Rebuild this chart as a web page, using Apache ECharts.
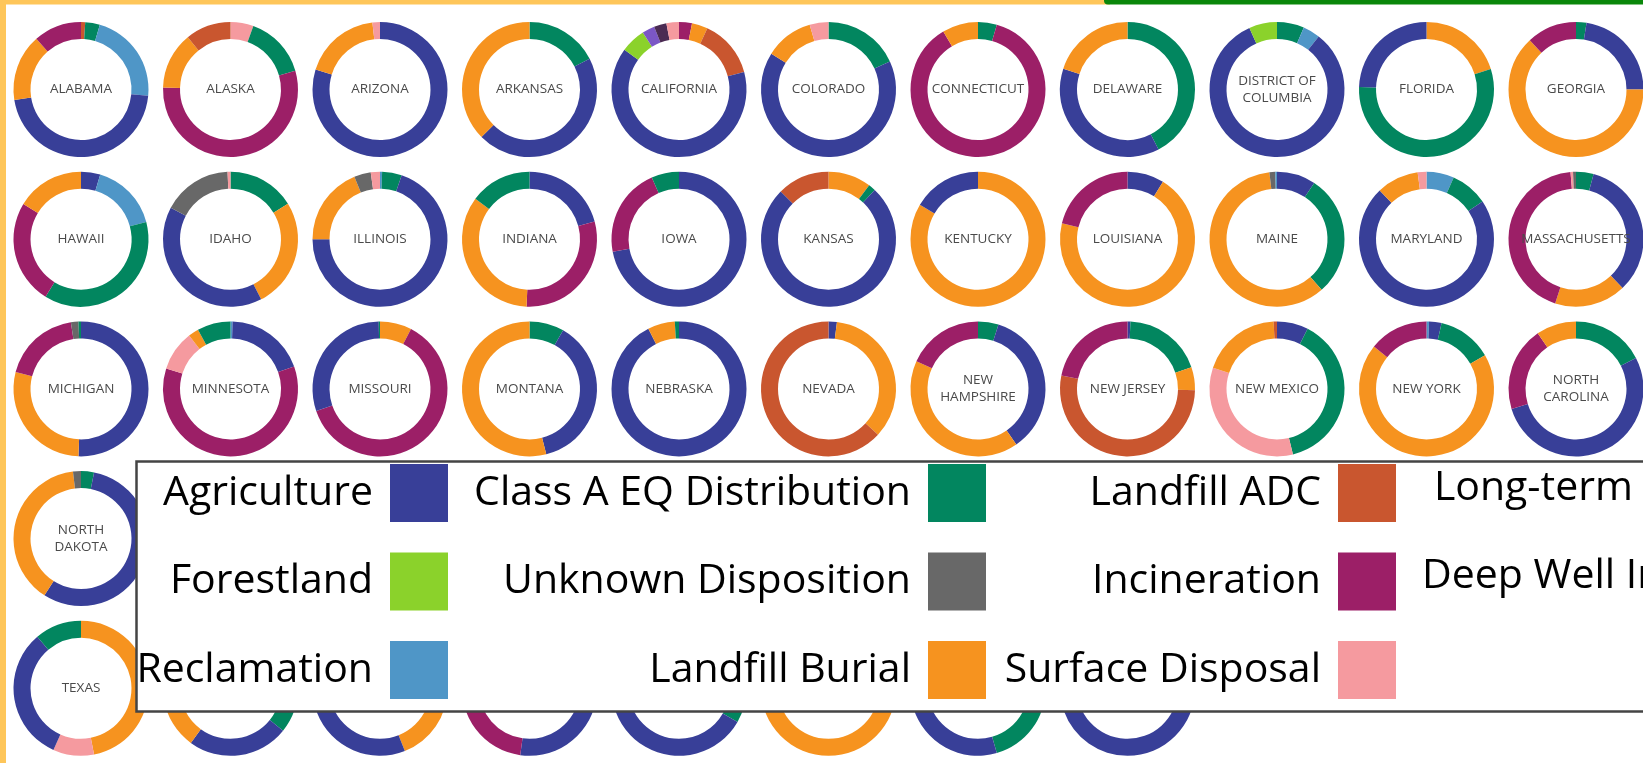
<!DOCTYPE html>
<html>
<head>
<meta charset="utf-8">
<script src="https://cdn.jsdelivr.net/npm/echarts@6/dist/echarts.min.js"></script>
<style>
  html, body { margin: 0; padding: 0; background: #fff; }
  #main { width: 1643px; height: 763px; }
</style>
</head>
<body>
<div id="main"></div>
<script>
const AG = 'Agriculture', EQ = 'Class A EQ Distribution', ADC = 'Landfill ADC', LT = 'Long-term Storage',
  FOR = 'Forestland', UNK = 'Unknown Disposition', INC = 'Incineration', DW = 'Deep Well Injection',
  REC = 'Reclamation', LB = 'Landfill Burial', SD = 'Surface Disposal';

const categories = [AG, EQ, ADC, LT, FOR, UNK, INC, DW, REC, LB, SD];
const colors = ['#383f98', '#02865f', '#c9562f', '#7b57c5', '#8bd22b', '#686868',
  '#9c1f67', '#4b2b53', '#4f96c7', '#f6931f', '#f59a9f'];

// legend columns, as laid out in the box
const legendCols = [[AG, FOR, REC], [EQ, UNK, LB], [ADC, INC, SD], [LT, DW]];

// share of each use per state (%), clockwise from 12 o'clock
const alabama = [[ADC, 1], [EQ, 3.5], [REC, 22], [AG, 46], [LB, 16], [INC, 11.5]];
const alaska = [[SD, 5.5], [EQ, 15], [INC, 55], [LB, 13.6], [ADC, 10.9]];
const arizona = [[AG, 79.8], [LB, 18.4], [SD, 1.8]];
const arkansas = [[EQ, 17.5], [AG, 45.1], [LB, 37.4]];
const california = [[INC, 3.1], [LB, 3.8], [ADC, 13.9], [AG, 64.2], [FOR, 6], [LT, 3], [DW, 3], [SD, 3]];
const colorado = [[EQ, 18.2], [AG, 65.7], [LB, 11.6], [SD, 4.5]];
const connecticut = [[EQ, 4.5], [INC, 86.9], [LB, 8.6]];
const delaware = [[EQ, 42.4], [AG, 37.6], [LB, 20]];
const dc = [[EQ, 6.5], [REC, 4.1], [AG, 82.7], [FOR, 6.7]];
const florida = [[LB, 20.1], [EQ, 55.5], [AG, 24.4]];
const georgia = [[EQ, 2.5], [AG, 22.5], [LB, 63], [INC, 12]];

const hawaii = [[AG, 4.6], [REC, 16.3], [EQ, 37.9], [INC, 24.9], [LB, 16.3]];
const idaho = [[EQ, 16.2], [LB, 26.3], [AG, 40.2], [UNK, 16.6], [SD, 0.7]];
const illinois = [[REC, 0.5], [EQ, 4.7], [AG, 69.8], [LB, 18.8], [UNK, 4], [SD, 2.2]];
const indiana = [[AG, 20.8], [INC, 29.9], [LB, 34.5], [EQ, 14.8]];
const iowa = [[AG, 72], [INC, 21.4], [EQ, 6.6]];
const kansas = [[LB, 10.3], [EQ, 1.7], [AG, 75.5], [ADC, 12.5]];
const kentucky = [[LB, 83.5], [AG, 16.5]];
const louisiana = [[AG, 8.8], [LB, 70], [INC, 21.2]];
const maine = [[AG, 9.3], [EQ, 29.2], [LB, 59.7], [UNK, 1.4], [REC, 0.4]];
const maryland = [[REC, 6.6], [EQ, 9], [AG, 72.2], [LB, 10.1], [SD, 2.1]];
const massachusetts = [[EQ, 4.2], [AG, 33.7], [LB, 17.1], [INC, 43.7], [SD, 0.6], [UNK, 0.7]];

const michigan = [[AG, 50.6], [LB, 28.4], [INC, 18.6], [UNK, 1.8], [EQ, 0.6]];
const minnesota = [[REC, 0.5], [AG, 19.1], [INC, 60.3], [SD, 9.6], [LB, 2.5], [EQ, 8]];
const missouri = [[LB, 7.6], [INC, 62.1], [AG, 30], [EQ, 0.3]];
const montana = [[EQ, 8.3], [AG, 37.7], [LB, 54]];
const nebraska = [[AG, 92.5], [LB, 6.5], [EQ, 1]];
const nevada = [[AG, 2], [LB, 34.9], [ADC, 63.1]];
const newHampshire = [[EQ, 4.9], [AG, 35.5], [LB, 41.3], [INC, 18.3]];
const newJersey = [[AG, 0.7], [EQ, 19.1], [LB, 5.5], [ADC, 52.9], [INC, 21.8]];
const newMexico = [[AG, 7.5], [EQ, 38.7], [SD, 33.9], [LB, 19.1], [ADC, 0.8]];
const newYork = [[REC, 0.6], [AG, 3], [EQ, 13.1], [LB, 69.1], [INC, 14.2]];
const northCarolina = [[EQ, 17.4], [AG, 52.8], [INC, 20.2], [LB, 9.6]];

const northDakota = [[EQ, 3.1], [AG, 56], [LB, 39], [UNK, 1.9]];
const texas = [[LB, 46.9], [SD, 9.8], [AG, 32.1], [EQ, 11.2]];
const utah = [[EQ, 35.8], [AG, 24.2], [LB, 40]];
const vermont = [[LB, 44], [AG, 56]];
const virginia = [[AG, 52.2], [INC, 47.8]];
const washington = [[EQ, 33.3], [AG, 66.7]];
const westVirginia = [[LB, 100]];
const wisconsin = [[EQ, 45.5], [AG, 54.5]];
const wyoming = [[AG, 69.5], [ADC, 30.5]];

const rows = [
  [['ALABAMA', alabama], ['ALASKA', alaska], ['ARIZONA', arizona], ['ARKANSAS', arkansas],
   ['CALIFORNIA', california], ['COLORADO', colorado], ['CONNECTICUT', connecticut],
   ['DELAWARE', delaware], ['DISTRICT OF\nCOLUMBIA', dc], ['FLORIDA', florida], ['GEORGIA', georgia]],
  [['HAWAII', hawaii], ['IDAHO', idaho], ['ILLINOIS', illinois], ['INDIANA', indiana],
   ['IOWA', iowa], ['KANSAS', kansas], ['KENTUCKY', kentucky], ['LOUISIANA', louisiana],
   ['MAINE', maine], ['MARYLAND', maryland], ['MASSACHUSETTS', massachusetts]],
  [['MICHIGAN', michigan], ['MINNESOTA', minnesota], ['MISSOURI', missouri], ['MONTANA', montana],
   ['NEBRASKA', nebraska], ['NEVADA', nevada], ['NEW\nHAMPSHIRE', newHampshire], ['NEW JERSEY', newJersey],
   ['NEW MEXICO', newMexico], ['NEW YORK', newYork], ['NORTH\nCAROLINA', northCarolina]],
  [['NORTH\nDAKOTA', northDakota]],
  [['TEXAS', texas], ['UTAH', utah], ['VERMONT', vermont], ['VIRGINIA', virginia],
   ['WASHINGTON', washington], ['WEST VIRGINIA', westVirginia], ['WISCONSIN', wisconsin], ['WYOMING', wyoming]]
];

var colorOf = {};
categories.forEach(function (c, i) { colorOf[c] = colors[i]; });

var series = [];
rows.forEach(function (row, r) {
  row.forEach(function (st, c) {
    series.push({
      type: 'pie',
      name: st[0],
      center: [81 + c * 149.5, 89.5 + r * 149.7],
      radius: [50.5, 67.5],
      startAngle: 90,
      silent: true,
      avoidLabelOverlap: false,
      emphasis: { disabled: true },
      label: { show: false },
      labelLine: { show: false },
      itemStyle: { borderWidth: 0 },
      data: st[1].map(function (d, i) {
        var item = { name: d[0], value: d[1], itemStyle: { color: colorOf[d[0]] } };
        if (i === 0) {
          // state name sits in the hole of the ring
          item.label = {
            show: true, position: 'center', formatter: st[0],
            color: '#4a4a4a', fontSize: 13.5, fontFamily: 'Open Sans', lineHeight: 17
          };
        }
        return item;
      })
    });
  });
});

function legendCol(names, pos) {
  return Object.assign({
    orient: 'vertical', align: 'right', top: 464, padding: 0, z: 20,
    itemWidth: 58, itemHeight: 58, itemGap: 30.5, icon: 'rect',
    selectedMode: false, data: names,
    textStyle: { fontFamily: 'Open Sans', fontSize: 41, color: '#000', padding: [0, 12, 0, 0] }
  }, pos);
}

var dom = document.getElementById('main');
var myChart = echarts.init(dom);
var option = {
  animation: false,
  backgroundColor: '#fff',
  legend: [
    legendCol(legendCols[0], { right: 1195 }),
    legendCol(legendCols[1], { right: 657 }),
    legendCol(legendCols[2], { right: 247 }),
    legendCol(legendCols[3], { left: 1422, top: 459 })
  ],
  graphic: {
    elements: [
      { type: 'rect', z: 10, shape: { x: 136.5, y: 461.5, width: 1600, height: 250 },
        style: { fill: '#fff', stroke: '#444', lineWidth: 2.5 } },
      { type: 'rect', z: 30, shape: { x: 0, y: 0, width: 1110, height: 4.5 }, style: { fill: '#fec65a' } },
      { type: 'rect', z: 30, shape: { x: 1104, y: 0, width: 545, height: 4.5, r: [0, 0, 0, 4] }, style: { fill: '#0a870a' } },
      { type: 'rect', z: 30, shape: { x: 0, y: 0, width: 6, height: 763 }, style: { fill: '#fec65a' } }
    ]
  },
  series: series
};
myChart.setOption(option);
window.onresize = function () {
  myChart.resize();
};
</script>
</body>
</html>
